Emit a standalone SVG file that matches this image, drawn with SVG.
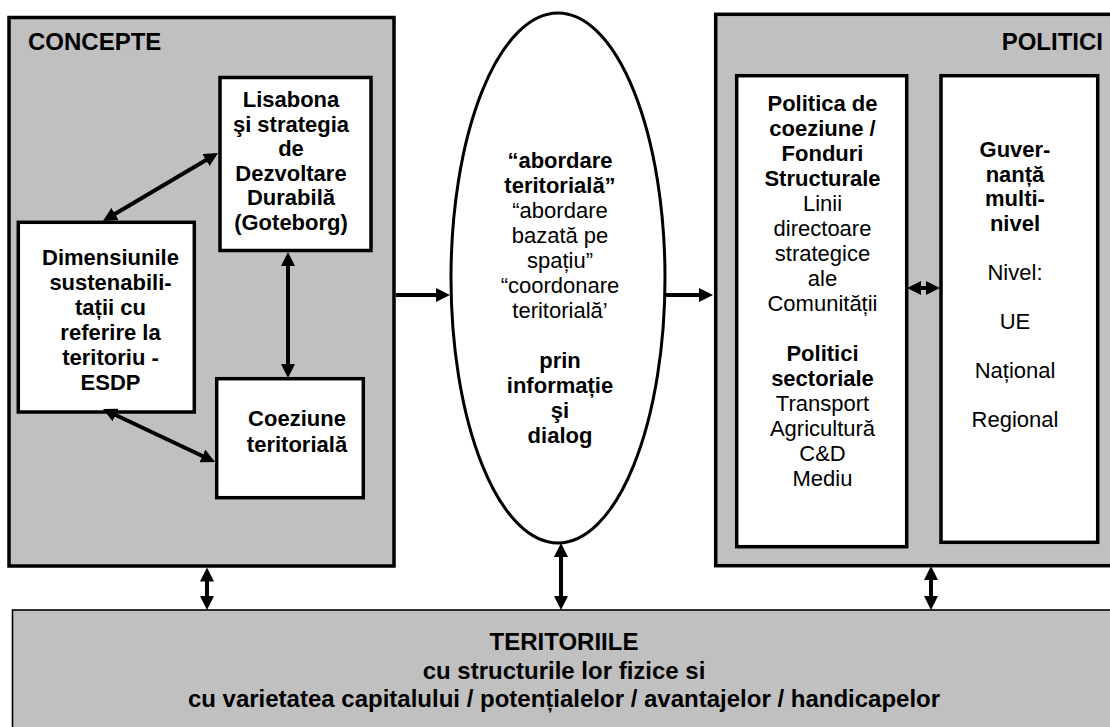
<svg xmlns="http://www.w3.org/2000/svg" width="1110" height="727" viewBox="0 0 1110 727">
<style>
.bg{fill:#fff}
.panel{fill:#c0c0c0;stroke:#000;stroke-width:3.5}
.box{fill:#fff;stroke:#000;stroke-width:3.5}
.base{fill:#c0c0c0;stroke:#000;stroke-width:1.6}
.ell{fill:#fff;stroke:#000;stroke-width:3}
text{font-family:"Liberation Sans",Arial,sans-serif;font-size:22px;fill:#000;text-anchor:middle}
.b{font-weight:bold}
.h{font-weight:bold;font-size:24px}
.conn path{fill:none;stroke:#000;stroke-width:4}
</style>
<defs>
<marker id="ah" viewBox="0 0 14 14" refX="10" refY="7" markerWidth="14" markerHeight="14" markerUnits="userSpaceOnUse" orient="auto-start-reverse"><path d="M0,0 L14,7 L0,14 z" fill="#000"/></marker>
</defs>
<rect class="bg" x="0" y="0" width="1110" height="727"/>

<g id="concepte">
<rect class="panel" x="9" y="17.5" width="385" height="548.5"/>
<text class="h" x="28" y="50" style="text-anchor:start">CONCEPTE</text>
</g>

<g id="lisabona">
<rect class="box" x="220" y="77.5" width="151" height="173"/>
<text class="b" x="291" y="107">Lisabona</text>
<text class="b" x="291" y="131.5">şi strategia</text>
<text class="b" x="291" y="156">de</text>
<text class="b" x="291" y="180.5">Dezvoltare</text>
<text class="b" x="291" y="205">Durabilă</text>
<text class="b" x="291" y="229.5">(Goteborg)</text>
</g>

<g id="dimensiunile">
<rect class="box" x="18.3" y="222.3" width="176" height="189.7"/>
<text class="b" x="110.5" y="264.5">Dimensiunile</text>
<text class="b" x="110.5" y="289.5">sustenabili-</text>
<text class="b" x="110.5" y="314.5">tații cu</text>
<text class="b" x="110.5" y="339.5">referire la</text>
<text class="b" x="110.5" y="364.5">teritoriu -</text>
<text class="b" x="110.5" y="389.5">ESDP</text>
</g>

<g id="coeziune">
<rect class="box" x="216.7" y="378.7" width="146.6" height="119"/>
<text class="b" x="297" y="426">Coeziune</text>
<text class="b" x="297" y="452">teritorială</text>
</g>

<g id="abordare">
<ellipse class="ell" cx="558" cy="278" rx="107" ry="265"/>
<text class="b" x="560" y="167.5">“abordare</text>
<text class="b" x="560" y="192.5">teritorială”</text>
<text x="560" y="217.5">“abordare</text>
<text x="560" y="242.5">bazată pe</text>
<text x="560" y="267.5">spațiu”</text>
<text x="560" y="292.5">“coordonare</text>
<text x="560" y="317.5">teritorială’</text>
<text class="b" x="560" y="367.5">prin</text>
<text class="b" x="560" y="392.5">informație</text>
<text class="b" x="560" y="417.5">şi</text>
<text class="b" x="560" y="442.5">dialog</text>
</g>

<g id="politici">
<rect class="panel" x="715.7" y="14.3" width="420" height="551.4"/>
<text class="h" x="1103" y="50" style="text-anchor:end">POLITICI</text>
</g>

<g id="politica-coeziune">
<rect class="box" x="736.7" y="75.7" width="170" height="471"/>
<text class="b" x="822.5" y="111">Politica de</text>
<text class="b" x="822.5" y="136">coeziune /</text>
<text class="b" x="822.5" y="161">Fonduri</text>
<text class="b" x="822.5" y="186">Structurale</text>
<text x="822.5" y="211">Linii</text>
<text x="822.5" y="236">directoare</text>
<text x="822.5" y="261">strategice</text>
<text x="822.5" y="286">ale</text>
<text x="822.5" y="311">Comunității</text>
<text class="b" x="822.5" y="361">Politici</text>
<text class="b" x="822.5" y="386">sectoriale</text>
<text x="822.5" y="411">Transport</text>
<text x="822.5" y="436">Agricultură</text>
<text x="822.5" y="461">C&amp;D</text>
<text x="822.5" y="486">Mediu</text>
</g>

<g id="guvernanta">
<rect class="box" x="941" y="75.7" width="156.7" height="466.6"/>
<text class="b" x="1015" y="157">Guver-</text>
<text class="b" x="1015" y="181.5">nanță</text>
<text class="b" x="1015" y="206">multi-</text>
<text class="b" x="1015" y="230.5">nivel</text>
<text x="1015" y="279.5">Nivel:</text>
<text x="1015" y="328.5">UE</text>
<text x="1015" y="377.5">Național</text>
<text x="1015" y="426.5">Regional</text>
</g>

<g id="teritoriile">
<rect class="base" x="12.5" y="610" width="1110" height="130"/>
<text class="h" x="564" y="650">TERITORIILE</text>
<text class="h" x="564" y="678.5">cu structurile lor fizice si</text>
<text class="h" x="564" y="707">cu varietatea capitalului / potențialelor / avantajelor / handicapelor</text>
</g>

<g id="connectors" class="conn">
<path d="M396,295 H446" marker-end="url(#ah)"/>
<path d="M665,295 H709" marker-end="url(#ah)"/>
<path d="M288,256 V374" marker-start="url(#ah)" marker-end="url(#ah)"/>
<path d="M106.4,219 L214.6,155" marker-start="url(#ah)" marker-end="url(#ah)"/>
<path d="M106.6,410.7 L211.4,460.3" marker-start="url(#ah)" marker-end="url(#ah)"/>
<path d="M911,288 H936" marker-start="url(#ah)" marker-end="url(#ah)"/>
<path d="M207,571.5 V606" marker-start="url(#ah)" marker-end="url(#ah)"/>
<path d="M561,547 V606" marker-start="url(#ah)" marker-end="url(#ah)"/>
<path d="M931,570 V606" marker-start="url(#ah)" marker-end="url(#ah)"/>
</g>
</svg>
